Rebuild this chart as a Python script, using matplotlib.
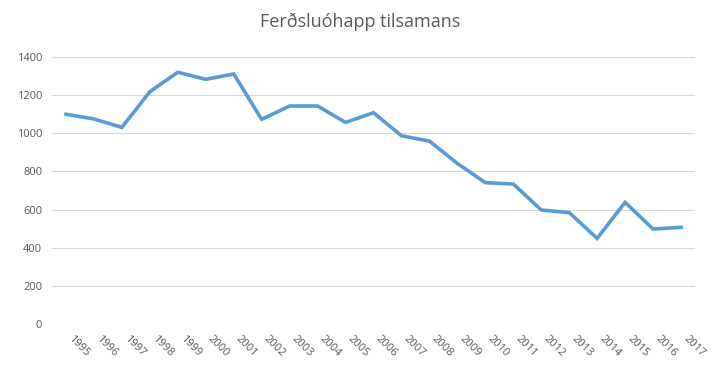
import matplotlib
matplotlib.use("Agg")
import matplotlib.pyplot as plt

# yearly totals
years = [str(y) for y in range(1995, 2018)]
totals = [1100, 1075, 1031, 1218, 1320, 1283, 1311, 1073, 1143, 1143, 1057,
          1108, 987, 959, 842, 741, 734, 598, 584, 449, 638, 498, 507]
yticks = [0, 200, 400, 600, 800, 1000, 1200, 1400]

TEXT = "#595959"
GRID = "#d9d9d9"
LINE = "#5b9bd5"

plt.rcParams["font.family"] = ["Open Sans", "DejaVu Sans"]

fig = plt.figure(figsize=(7.16, 3.65), dpi=100)
ax = fig.add_axes([52 / 716, 1 - 324 / 365, 643 / 716, 267 / 365])

x = list(range(len(years)))
ax.plot(x, totals, color=LINE, lw=2.6, solid_joinstyle="miter")

ax.set_xlim(-0.5, len(years) - 0.5)
ax.set_ylim(0, 1400)
ax.set_yticks(yticks)
ax.set_yticklabels([str(v) for v in yticks], color=TEXT, fontsize=8)
ax.set_xticks(x)
ax.set_xticklabels(years, rotation=-45, ha="left", va="top",
                   color=TEXT, fontsize=8)

ax.grid(axis="y", color=GRID, lw=0.8)
ax.set_axisbelow(True)
for s in ax.spines.values():
    s.set_visible(False)
ax.tick_params(length=0, pad=7)

fig.text(0.503, 1 - 22 / 365, "Ferðsluóhapp tilsamans", ha="center",
         va="center", fontsize=13, color=TEXT)

fig.savefig("out.png", dpi=100)
